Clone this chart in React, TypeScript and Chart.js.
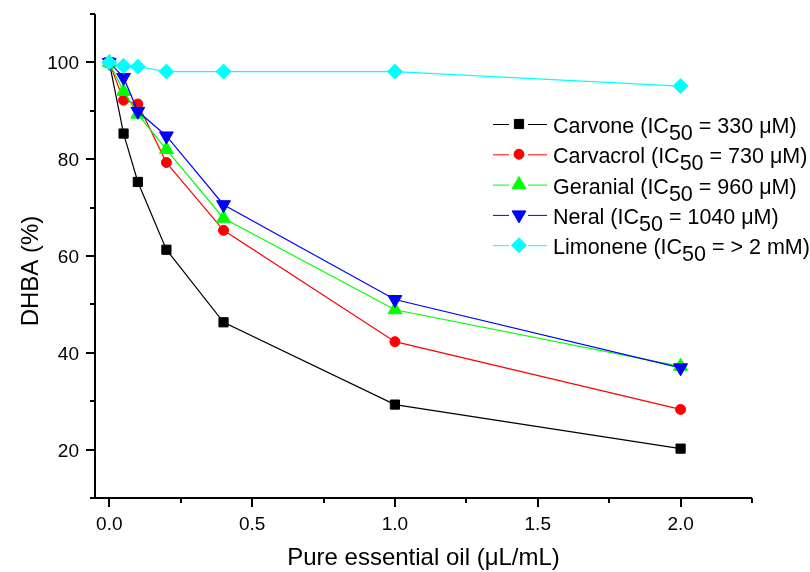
import React, { useEffect, useRef } from 'react';
import { Chart, registerables } from 'chart.js';

Chart.register(...registerables);

// ---- data ----
const doses = [0, 0.05, 0.1, 0.2, 0.4, 1.0, 2.0];
const carvone = [100, 85.3, 75.3, 61.3, 46.3, 29.3, 20.2];
const carvacrol = [100, 92.2, 91.4, 79.3, 65.3, 42.3, 28.3];
const geranial = [100, 94.0, 89.3, 82.0, 67.8, 48.9, 37.2];
const neral = [100, 96.9, 89.9, 84.8, 70.6, 51.0, 36.9];
const limonene = [100, 99.3, 99.1, 98.1, 98.1, 98.1, 95.1];

const seriesNames = ['Carvone', 'Carvacrol', 'Geranial', 'Neral', 'Limonene'];
const ic50Values = ['330 μM', '730 μM', '960 μM', '1040 μM', '> 2 mM'];

const xMajorTicks = [0, 0.5, 1.0, 1.5, 2.0];
const xTickLabels = ['0.0', '0.5', '1.0', '1.5', '2.0'];
const xMinorTicks = [0.25, 0.75, 1.25, 1.75, 2.25];
const yMajorTicks = [20, 40, 60, 80, 100];
const yTickLabels = ['20', '40', '60', '80', '100'];
const yMinorTicks = [10, 30, 50, 70, 90, 110];

const xTitle = 'Pure essential oil (μL/mL)';
const yTitle = 'DHBA (%)';

const seriesValues = [carvone, carvacrol, geranial, neral, limonene];
const colors = ['#000000', '#ff0000', '#00ff00', '#0000ff', '#00ffff'];
const pointStyles = ['rect', 'circle', 'triangle', 'triangle', 'rectRot'];
const pointRotations = [0, 0, 0, 180, 0];
const pointRadii = [6.5, 5, 8, 8, 7.5];

const FONT = 'Arial, "Liberation Sans", sans-serif';

function drawMarker(ctx: CanvasRenderingContext2D, style: string, rot: number, x: number, y: number, r: number, color: string) {
  ctx.save();
  ctx.fillStyle = color;
  ctx.strokeStyle = color;
  ctx.lineWidth = 1;
  ctx.beginPath();
  if (style === 'rect') {
    const s = Math.SQRT1_2 * r;
    ctx.rect(x - s, y - s, 2 * s, 2 * s);
  } else if (style === 'circle') {
    ctx.arc(x, y, r, 0, Math.PI * 2);
  } else if (style === 'triangle') {
    let rad = (rot * Math.PI) / 180;
    ctx.moveTo(x + Math.sin(rad) * r, y - Math.cos(rad) * r);
    rad += (2 * Math.PI) / 3;
    ctx.lineTo(x + Math.sin(rad) * r, y - Math.cos(rad) * r);
    rad += (2 * Math.PI) / 3;
    ctx.lineTo(x + Math.sin(rad) * r, y - Math.cos(rad) * r);
    ctx.closePath();
  } else {
    ctx.moveTo(x - r, y);
    ctx.lineTo(x, y - r);
    ctx.lineTo(x + r, y);
    ctx.lineTo(x, y + r);
    ctx.closePath();
  }
  ctx.fill();
  ctx.stroke();
  ctx.restore();
}

const axesPlugin = {
  id: 'originAxes',
  afterDraw(chart: any) {
    const ctx: CanvasRenderingContext2D = chart.ctx;
    const xs = chart.scales.x;
    const ys = chart.scales.y;
    const { left, right, top, bottom } = chart.chartArea;
    ctx.save();
    ctx.strokeStyle = '#000';
    ctx.lineWidth = 2;
    ctx.beginPath();
    ctx.moveTo(left, top);
    ctx.lineTo(left, bottom + 1);
    ctx.moveTo(left - 1, bottom);
    ctx.lineTo(right, bottom);
    yMajorTicks.forEach((v) => {
      const py = Math.round(ys.getPixelForValue(v));
      ctx.moveTo(left, py);
      ctx.lineTo(left - 9, py);
    });
    yMinorTicks.forEach((v) => {
      const py = Math.round(ys.getPixelForValue(v));
      ctx.moveTo(left, py);
      ctx.lineTo(left - 5, py);
    });
    xMajorTicks.forEach((v) => {
      const px = Math.round(xs.getPixelForValue(v));
      ctx.moveTo(px, bottom);
      ctx.lineTo(px, bottom + 9);
    });
    xMinorTicks.forEach((v) => {
      const px = Math.round(xs.getPixelForValue(v));
      ctx.moveTo(px, bottom);
      ctx.lineTo(px, bottom + 5);
    });
    ctx.stroke();

    // tick labels
    ctx.fillStyle = '#000';
    ctx.font = `19px ${FONT}`;
    ctx.textAlign = 'right';
    ctx.textBaseline = 'alphabetic';
    yMajorTicks.forEach((v, i) => {
      const py = ys.getPixelForValue(v);
      ctx.fillText(yTickLabels[i], left - 16, py + 7);
    });
    ctx.textAlign = 'center';
    xMajorTicks.forEach((v, i) => {
      const px = xs.getPixelForValue(v);
      ctx.fillText(xTickLabels[i], px, bottom + 32);
    });

    // titles
    ctx.font = `24px ${FONT}`;
    ctx.textAlign = 'center';
    ctx.textBaseline = 'alphabetic';
    ctx.fillText(xTitle, (left + right) / 2, 565);
    ctx.save();
    ctx.translate(38, 271);
    ctx.rotate(-Math.PI / 2);
    ctx.fillText(yTitle, 0, 0);
    ctx.restore();

    // legend
    const lx0 = 493;
    const rowTop = 124;
    const rowGap = 30.3;
    ctx.font = `21.5px ${FONT}`;
    ctx.textAlign = 'left';
    seriesNames.forEach((name, i) => {
      const cy = rowTop + i * rowGap;
      const color = colors[i];
      ctx.strokeStyle = color;
      ctx.lineWidth = 1;
      ctx.beginPath();
      ctx.moveTo(lx0, cy + 0.5);
      ctx.lineTo(lx0 + 16, cy + 0.5);
      ctx.moveTo(lx0 + 35, cy + 0.5);
      ctx.lineTo(lx0 + 54, cy + 0.5);
      ctx.stroke();
      drawMarker(ctx, pointStyles[i], pointRotations[i], lx0 + 26, cy, pointRadii[i], color);
      ctx.fillStyle = '#000';
      let tx = 553;
      const base = cy + 9;
      const p1 = `${name} (IC`;
      ctx.fillText(p1, tx, base);
      tx += ctx.measureText(p1).width;
      ctx.fillText('50', tx, base + 7);
      tx += ctx.measureText('50').width;
      ctx.fillText(` = ${ic50Values[i]})`, tx, base);
    });
    ctx.restore();
  },
};

export default function App() {
  const canvasRef = useRef<HTMLCanvasElement | null>(null);

  useEffect(() => {
    const canvas = canvasRef.current;
    if (!canvas) return;
    const datasets = seriesNames.map((name, i) => ({
      label: name,
      data: doses.map((x, j) => ({ x, y: seriesValues[i][j] })),
      borderColor: colors[i],
      backgroundColor: colors[i],
      borderWidth: 1.2,
      pointStyle: pointStyles[i] as any,
      pointRotation: pointRotations[i],
      pointRadius: pointRadii[i],
      pointBorderWidth: 1,
      pointBackgroundColor: colors[i],
      pointBorderColor: colors[i],
      tension: 0,
      fill: false,
      order: seriesNames.length - i,
      clip: false as any,
    }));
    const chart = new Chart(canvas, {
      type: 'line',
      data: { datasets },
      options: {
        responsive: false,
        animation: false,
        devicePixelRatio: 1,
        layout: { padding: { left: 95, right: 58, top: 14, bottom: 74 } },
        plugins: { legend: { display: false }, tooltip: { enabled: false } },
        scales: {
          x: { type: 'linear', min: -0.05, max: 2.25, display: false },
          y: { type: 'linear', min: 10, max: 110, display: false },
        },
      },
      plugins: [axesPlugin],
    });
    return () => chart.destroy();
  }, []);

  return (
    <div style={{ position: 'fixed', left: 0, top: 0, width: 810, height: 572, background: '#fff' }}>
      <canvas ref={canvasRef} width={810} height={572} />
    </div>
  );
}
